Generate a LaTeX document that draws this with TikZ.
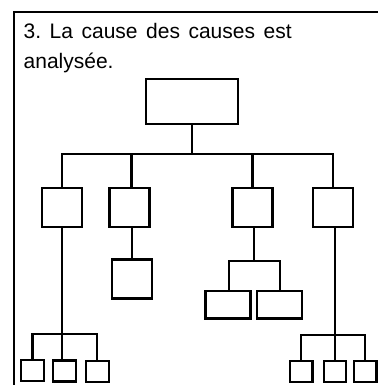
\documentclass[tikz,border=0pt]{standalone}
\usepackage{fontspec}
\setmainfont{Liberation Sans}
\begin{document}
\begin{tikzpicture}[x=1pt,y=-1pt,
  box/.style={draw=black,line width=2.3pt,rectangle,inner sep=0pt,outer sep=0pt},
  link/.style={draw=black,line width=2.3pt},
  frameline/.style={draw=black,line width=2pt},
  label/.style={anchor=base west,inner sep=0pt,font=\fontsize{21}{25}\selectfont}]
\useasboundingbox (0,0) rectangle (377,385);
% frame
\coordinate (fTL) at (14,12);
\coordinate (fBL) at (14,386);
\coordinate (fTR) at (378,12);
\draw[frameline] (fBL) -- (fTL) -- (fTR);
% title
\node[label] (t1) at (23.5,38.3) {\hbox to 268pt{3.\ La cause des causes est}};
\node[label] (t2) at (23.5,69) {analysée.};
% top box
\node[box,minimum width=92pt,minimum height=45pt] (top) at (192,101.5) {};
\coordinate (bus1) at (192,154);
% level 2
\node[box,minimum width=40pt,minimum height=38.5pt] (A) at (62.3,207.5) {};
\node[box,minimum width=40pt,minimum height=38.5pt] (B) at (129.5,207.5) {};
\node[box,minimum width=40pt,minimum height=38.5pt] (C) at (252.5,207.5) {};
\node[box,minimum width=40pt,minimum height=38.5pt] (D) at (333.3,207.5) {};
\draw[link] (top.south) -- (bus1);
\draw[link] (A.north) |- (bus1) -| (D.north);
\draw[link] (131.5,154) coordinate (jB) -- (jB |- B.north);
\draw[link] (252.5,154) coordinate (jC) -- (C.north);
% below B
\node[box,minimum width=40pt,minimum height=39pt] (B2) at (131.7,279) {};
\draw[link] (B2.north |- B.south) coordinate (jB2) -- (B2.north);
% below C
\coordinate (busC) at (254,260.7);
\node[box,minimum width=45pt,minimum height=27.5pt] (C1) at (228,304.7) {};
\node[box,minimum width=45.5pt,minimum height=27.5pt] (C2) at (279.5,304.7) {};
\draw[link] (busC |- C.south) -- (busC);
\draw[link] (C1.north -| 229,0) |- (busC) -| (C2.north -| 280,0);
% below A
\coordinate (busA) at (62.3,333.7);
\node[box,minimum width=23pt,minimum height=21pt] (A1) at (32.5,370.5) {};
\node[box,minimum width=23pt,minimum height=21pt] (A2) at (64.2,371) {};
\node[box,minimum width=23pt,minimum height=21pt] (A3) at (97.3,371.2) {};
\draw[link] (A.south) -- (busA);
\draw[link] (A1.north) |- (busA) -| (A3.north);
\draw[link] (busA) -- (busA |- A2.north);
% below D
\coordinate (busD) at (335,335);
\node[box,minimum width=22.5pt,minimum height=21pt] (D1) at (301.3,371.2) {};
\node[box,minimum width=22.5pt,minimum height=21pt] (D2) at (335,371.2) {};
\node[box,minimum width=22.5pt,minimum height=21pt] (D3) at (365.2,371.2) {};
\draw[link] (busD |- D.south) -- (busD);
\draw[link] (D1.north) |- (busD) -| (D3.north);
\draw[link] (busD) -- (D2.north);
\end{tikzpicture}
\end{document}
